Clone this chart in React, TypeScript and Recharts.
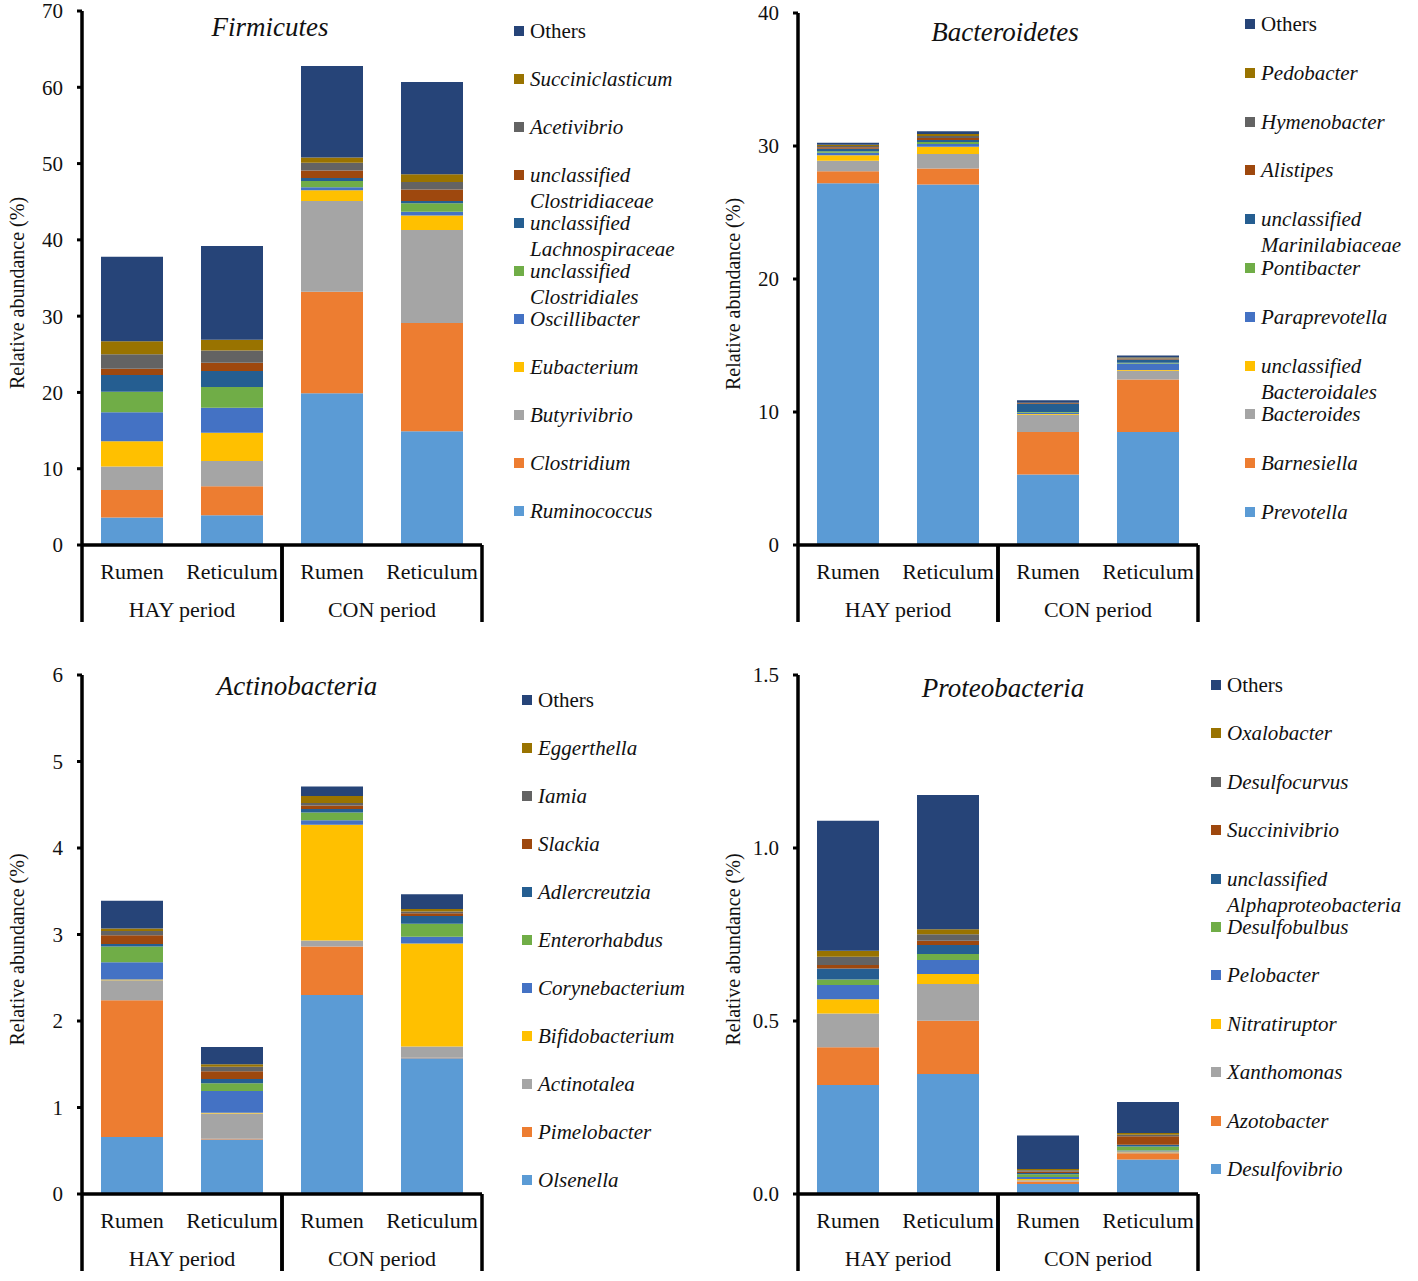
import { BarChart, Bar, XAxis, YAxis } from 'recharts'

const SERIF = "'Times New Roman', 'Liberation Serif', serif"
const INK = '#111'

// Excel office palette, bottom segment first, "Others" last
const COLORS = [
  '#5B9BD5', '#ED7D31', '#A5A5A5', '#FFC000', '#4472C4', '#70AD47',
  '#255E91', '#9E480E', '#636363', '#997300', '#264478',
]

const SITES = ['Rumen', 'Reticulum', 'Rumen', 'Reticulum']
const PERIODS = ['HAY period', 'HAY period', 'CON period', 'CON period']

// Firmicutes
const firmicutesNames = [
  'Ruminococcus', 'Clostridium', 'Butyrivibrio', 'Eubacterium', 'Oscillibacter',
  'unclassified\nClostridiales', 'unclassified\nLachnospiraceae', 'unclassified\nClostridiaceae',
  'Acetivibrio', 'Succiniclasticum', 'Others',
]
const firmicutesHayRumen = [3.6, 3.6, 3.1, 3.3, 3.8, 2.7, 2.2, 0.8, 1.9, 1.7, 11.1]
const firmicutesHayReticulum = [3.9, 3.8, 3.3, 3.7, 3.3, 2.7, 2.1, 1.1, 1.6, 1.4, 12.3]
const firmicutesConRumen = [19.9, 13.3, 11.9, 1.4, 0.4, 0.8, 0.4, 1.0, 1.0, 0.7, 12.0]
const firmicutesConReticulum = [14.9, 14.2, 12.2, 1.9, 0.5, 1.1, 0.3, 1.5, 1.0, 1.0, 12.1]
const firmicutesTicks = [0, 10, 20, 30, 40, 50, 60, 70]

// Bacteroidetes
const bacteroidetesNames = [
  'Prevotella', 'Barnesiella', 'Bacteroides', 'unclassified\nBacteroidales', 'Paraprevotella',
  'Pontibacter', 'unclassified\nMarinilabiaceae', 'Alistipes', 'Hymenobacter', 'Pedobacter', 'Others',
]
const bacteroidetesHayRumen = [27.2, 0.9, 0.8, 0.4, 0.2, 0.1, 0.2, 0.1, 0.1, 0.1, 0.15]
const bacteroidetesHayReticulum = [27.1, 1.2, 1.1, 0.55, 0.2, 0.15, 0.15, 0.15, 0.15, 0.15, 0.2]
const bacteroidetesConRumen = [5.3, 3.2, 1.3, 0.05, 0.1, 0.05, 0.6, 0.05, 0.02, 0.02, 0.2]
const bacteroidetesConReticulum = [8.5, 3.95, 0.65, 0.05, 0.5, 0.05, 0.25, 0.05, 0.05, 0.05, 0.15]
const bacteroidetesTicks = [0, 10, 20, 30, 40]

// Actinobacteria
const actinobacteriaNames = [
  'Olsenella', 'Pimelobacter', 'Actinotalea', 'Bifidobacterium', 'Corynebacterium',
  'Enterorhabdus', 'Adlercreutzia', 'Slackia', 'Iamia', 'Eggerthella', 'Others',
]
const actinobacteriaHayRumen = [0.66, 1.58, 0.23, 0.01, 0.2, 0.18, 0.03, 0.1, 0.05, 0.03, 0.32]
const actinobacteriaHayReticulum = [0.63, 0.01, 0.29, 0.01, 0.25, 0.09, 0.05, 0.09, 0.05, 0.03, 0.2]
const actinobacteriaConRumen = [2.3, 0.56, 0.07, 1.34, 0.05, 0.09, 0.04, 0.04, 0.03, 0.08, 0.11]
const actinobacteriaConReticulum = [1.57, 0.005, 0.13, 1.19, 0.08, 0.15, 0.09, 0.03, 0.02, 0.03, 0.17]
const actinobacteriaTicks = [0, 1, 2, 3, 4, 5, 6]

// Proteobacteria
const proteobacteriaNames = [
  'Desulfovibrio', 'Azotobacter', 'Xanthomonas', 'Nitratiruptor', 'Pelobacter', 'Desulfobulbus',
  'unclassified\nAlphaproteobacteria', 'Succinivibrio', 'Desulfocurvus', 'Oxalobacter', 'Others',
]
const proteobacteriaHayRumen = [0.315, 0.109, 0.098, 0.041, 0.041, 0.016, 0.032, 0.01, 0.024, 0.017, 0.376]
const proteobacteriaHayReticulum = [0.347, 0.154, 0.106, 0.029, 0.04, 0.018, 0.026, 0.012, 0.019, 0.014, 0.388]
const proteobacteriaConRumen = [0.029, 0.007, 0.004, 0.003, 0.006, 0.008, 0.004, 0.004, 0.004, 0.003, 0.097]
const proteobacteriaConReticulum = [0.1, 0.018, 0.003, 0.002, 0.003, 0.011, 0.005, 0.025, 0.004, 0.005, 0.09]
const proteobacteriaTicks = [0, 0.5, 1.0, 1.5]

const PLOT_W = 400
const AXIS_W = 82
const SITE_H = 45
const PERIOD_H = 35
const LINE = 3.5

function buildRows(bars: number[][]) {
  return bars.map((vals, i) => {
    const row: Record<string, string | number> = { site: SITES[i], period: PERIODS[i] }
    vals.forEach((v, k) => { row['s' + k] = v })
    return row
  })
}

function SiteTick({ x, y, payload }: any) {
  return (
    <text x={x} y={y + 34} textAnchor="middle" style={{ fontFamily: SERIF, fontSize: 22, fill: INK }}>
      {payload.value}
    </text>
  )
}

function PeriodTick({ x, y, payload }: any) {
  const half = PLOT_W / 4
  return (
    <g>
      <line x1={x - half} x2={x - half} y1={y - SITE_H} y2={y + 32} stroke="#000" strokeWidth={LINE} />
      <line x1={x + half} x2={x + half} y1={y - SITE_H} y2={y + 32} stroke="#000" strokeWidth={LINE} />
      <text x={x} y={y + 27} textAnchor="middle" style={{ fontFamily: SERIF, fontSize: 22, fill: INK }}>
        {payload.value}
      </text>
    </g>
  )
}

function YTitle({ viewBox }: any) {
  const cy = (viewBox?.y ?? 0) + (viewBox?.height ?? 0) / 2 + 15
  return (
    <text
      transform={`translate(17, ${cy}) rotate(-90)`}
      textAnchor="middle"
      dominantBaseline="central"
      style={{ fontFamily: SERIF, fontSize: 20, fill: INK }}
    >
      Relative abundance (%)
    </text>
  )
}

interface PanelProps {
  left: number
  top: number
  plotTop: number
  plotH: number
  title: string
  titleX: number
  titleY: number
  names: string[]
  bars: number[][]
  ticks: number[]
  fmt?: (v: number) => string
  legendX: number
  legendY: number
  pitch: number
}

function Panel({ left, top, plotTop, plotH, title, titleX, titleY, names, bars, ticks, fmt, legendX, legendY, pitch }: PanelProps) {
  const rows = buildRows(bars)
  const height = plotTop + plotH + SITE_H + PERIOD_H + 8
  return (
    <>
      <div style={{ position: 'absolute', left, top }}>
        <BarChart
          width={AXIS_W + PLOT_W + 12}
          height={height}
          data={rows}
          margin={{ top: plotTop, right: 12, left: 0, bottom: 8 }}
          barCategoryGap="19%"
        >
          <XAxis
            xAxisId="a"
            dataKey="site"
            interval={0}
            height={SITE_H}
            tickSize={0}
            tickMargin={0}
            tickLine={false}
            axisLine={{ stroke: '#000', strokeWidth: LINE }}
            tick={<SiteTick />}
          />
          <XAxis
            xAxisId="b"
            dataKey="period"
            allowDuplicatedCategory={false}
            interval={0}
            height={PERIOD_H}
            tickSize={0}
            tickMargin={0}
            tickLine={false}
            axisLine={false}
            tick={<PeriodTick />}
          />
          <YAxis
            width={AXIS_W}
            domain={[0, ticks[ticks.length - 1]]}
            ticks={ticks}
            interval={0}
            tickFormatter={fmt}
            tickSize={5}
            tickMargin={14}
            tickLine={{ stroke: '#000', strokeWidth: 3 }}
            axisLine={{ stroke: '#000', strokeWidth: LINE }}
            tick={{ fill: INK, fontSize: 21, fontFamily: SERIF }}
            label={<YTitle />}
          />
          {names.map((n, i) => (
            <Bar
              key={n}
              xAxisId="a"
              dataKey={'s' + i}
              name={n}
              stackId="stack"
              fill={COLORS[i]}
              isAnimationActive={false}
            />
          ))}
          <text
            x={titleX}
            y={titleY}
            textAnchor="middle"
            dominantBaseline="central"
            style={{ fontFamily: SERIF, fontSize: 27, fontStyle: 'italic', fill: INK }}
          >
            {title}
          </text>
        </BarChart>
      </div>
      <div style={{ position: 'absolute', left: legendX, top: legendY, fontFamily: SERIF, fontSize: 21, color: INK }}>
        {[...names].reverse().map((n, i) => (
          <div
            key={n}
            style={{ position: 'absolute', left: 0, top: i * pitch - 13, display: 'flex', alignItems: 'flex-start', whiteSpace: 'pre' }}
          >
            <span style={{ display: 'inline-block', width: 10, height: 10, marginTop: 8, marginRight: 6, background: COLORS[names.length - 1 - i] }} />
            <span style={{ lineHeight: '26px', fontStyle: n === 'Others' ? 'normal' : 'italic' }}>{n}</span>
          </div>
        ))}
      </div>
    </>
  )
}

export default function App() {
  return (
    <div style={{ position: 'absolute', left: 0, top: 0, width: 1418, height: 1281, background: '#fff', overflow: 'hidden' }}>
      <Panel
        left={0}
        top={0}
        plotTop={11}
        plotH={534}
        title="Firmicutes"
        titleX={270}
        titleY={27}
        names={firmicutesNames}
        bars={[firmicutesHayRumen, firmicutesHayReticulum, firmicutesConRumen, firmicutesConReticulum]}
        ticks={firmicutesTicks}
        legendX={514}
        legendY={31}
        pitch={48}
      />
      <Panel
        left={716}
        top={0}
        plotTop={13}
        plotH={532}
        title="Bacteroidetes"
        titleX={289}
        titleY={32}
        names={bacteroidetesNames}
        bars={[bacteroidetesHayRumen, bacteroidetesHayReticulum, bacteroidetesConRumen, bacteroidetesConReticulum]}
        ticks={bacteroidetesTicks}
        legendX={1245}
        legendY={24}
        pitch={48.8}
      />
      <Panel
        left={0}
        top={650}
        plotTop={25}
        plotH={519}
        title="Actinobacteria"
        titleX={297}
        titleY={36}
        names={actinobacteriaNames}
        bars={[actinobacteriaHayRumen, actinobacteriaHayReticulum, actinobacteriaConRumen, actinobacteriaConReticulum]}
        ticks={actinobacteriaTicks}
        legendX={522}
        legendY={700}
        pitch={48}
      />
      <Panel
        left={716}
        top={650}
        plotTop={25}
        plotH={519}
        title="Proteobacteria"
        titleX={287}
        titleY={38}
        names={proteobacteriaNames}
        bars={[proteobacteriaHayRumen, proteobacteriaHayReticulum, proteobacteriaConRumen, proteobacteriaConReticulum]}
        ticks={proteobacteriaTicks}
        fmt={(v: number) => v.toFixed(1)}
        legendX={1211}
        legendY={685}
        pitch={48.4}
      />
    </div>
  )
}
